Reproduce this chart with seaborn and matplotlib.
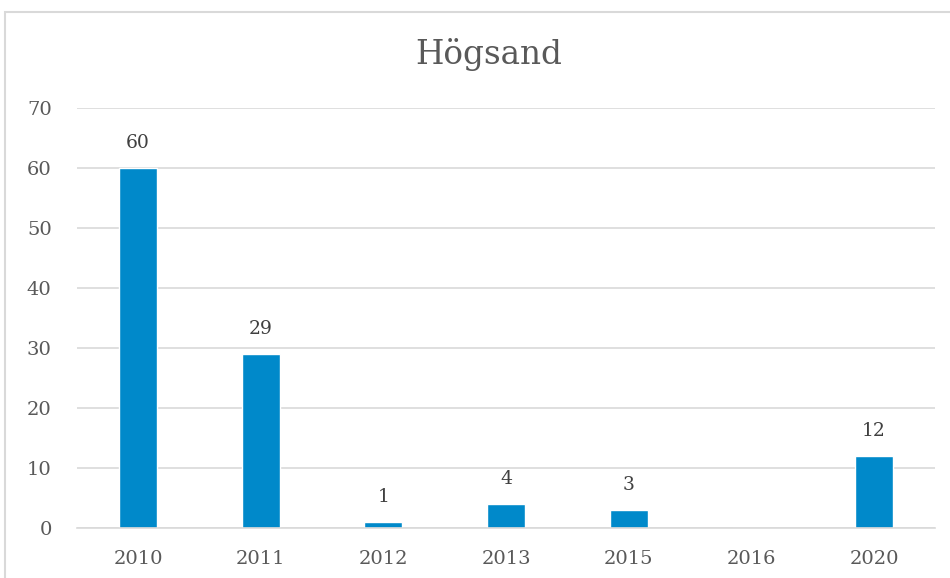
import matplotlib
matplotlib.use("Agg")
import matplotlib.pyplot as plt
import pandas as pd
import seaborn as sns
from matplotlib.patches import Rectangle

# data
years = ["2010", "2011", "2012", "2013", "2015", "2016", "2020"]
counts = [60, 29, 1, 4, 3, 0, 12]
labels = ["60", "29", "1", "4", "3", "", "12"]
y_ticks = [0, 10, 20, 30, 40, 50, 60, 70]

BAR_COLOR = "#0089CA"
TEXT_COLOR = "#595959"

sns.set_theme(style="white")
plt.rcParams["font.family"] = ["DejaVu Serif"]

df = pd.DataFrame({"year": years, "count": counts})

fig = plt.figure(figsize=(9.5, 5.78), dpi=100)
ax = fig.add_axes([0.0807, 0.0865, 0.904, 0.7265])

sns.barplot(data=df, x="year", y="count", color=BAR_COLOR, width=0.31,
            saturation=1, ax=ax)

for bar, lab in zip(ax.patches, labels):
    if lab:
        ax.text(bar.get_x() + bar.get_width() / 2, bar.get_height() + 2.6, lab,
                ha="center", va="bottom", fontsize=13.5, color="#404040")

ax.set_ylim(0, 70)
ax.set_yticks(y_ticks)
ax.yaxis.grid(True, color="#D9D9D9", linewidth=1.2)
ax.set_axisbelow(True)
for s in ["top", "right", "left"]:
    ax.spines[s].set_visible(False)
ax.spines["bottom"].set_color("#D9D9D9")
ax.spines["bottom"].set_linewidth(1.2)
ax.tick_params(axis="both", length=0, labelsize=14, colors=TEXT_COLOR)
ax.tick_params(axis="y", pad=18)
ax.tick_params(axis="x", pad=16)
ax.set_xlabel("")
ax.set_ylabel("")

fig.text(0.514, 0.905, "Högsand", ha="center", va="center", fontsize=23.5,
         color=TEXT_COLOR)

# chart frame (cropped at right and bottom)
fig.patches.append(Rectangle((5 / 950, -0.05), 1.2, 1 - 12 / 578 + 0.05,
                             transform=fig.transFigure, fill=False,
                             edgecolor="#D9D9D9", linewidth=1.5))

fig.savefig("out.png", dpi=100)
